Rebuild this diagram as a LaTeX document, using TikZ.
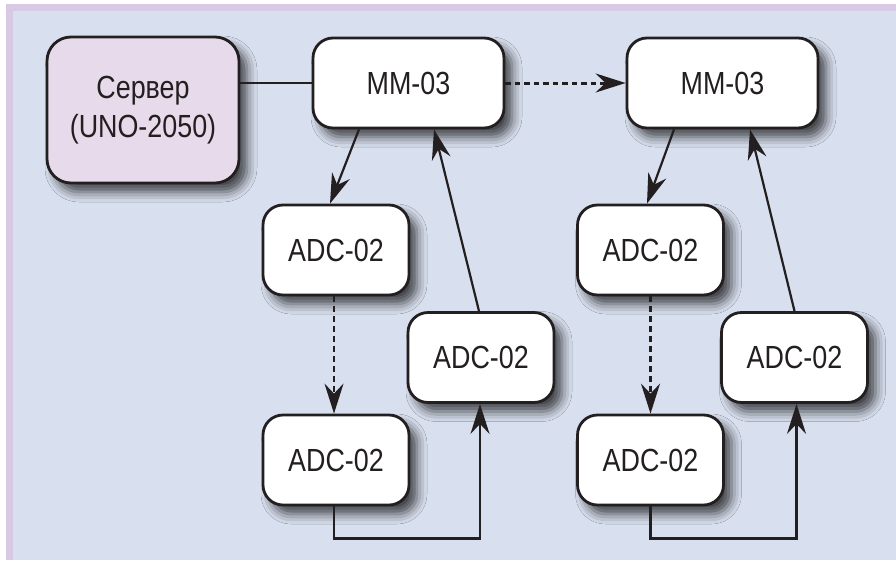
\documentclass[tikz,border=0pt]{standalone}
\usepackage{fontspec}
\setmainfont{Liberation Sans}[FakeStretch=0.84]
\usepackage{tikz}
\usetikzlibrary{arrows.meta,shadows.blur,calc}
\definecolor{framelav}{RGB}{216,202,228}
\definecolor{panelblue}{RGB}{216,223,238}
\definecolor{serverpink}{RGB}{231,218,234}
\definecolor{inkdark}{RGB}{35,31,32}

\begin{document}
\begin{tikzpicture}[
            x=1pt, y=-1pt,
            font=\fontsize{32}{39}\selectfont,
            unit/.style={rectangle, rounded corners=20pt, draw=inkdark, line width=2.8pt,
                        fill=white, text=inkdark, align=center, inner sep=0pt,
                        blur shadow={shadow xshift=8pt, shadow yshift=-9pt,
                                     shadow blur radius=10pt, shadow opacity=70}},
            mm/.style={unit, minimum width=191pt, minimum height=90pt},
            adc/.style={unit, minimum width=146pt, minimum height=90pt},
            server/.style={unit, fill=serverpink, minimum width=192pt, minimum height=146pt,
                        rounded corners=24pt},
            link/.style={inkdark, line width=2.8pt},
            arrow/.style={-{Stealth[length=30pt, width=19pt, inset=10pt]}, inkdark, line width=2.2pt},
            ghost/.style={arrow, dash pattern=on 6pt off 4pt}
        ]
            % panel
            \useasboundingbox (0,0) rectangle (896,560);
            \fill[white] (0,0) rectangle (896,560);
            \fill[framelav] (6,4) rectangle (896,560);
            \fill[panelblue] (13,11) rectangle (896,560);

            \node[server] (server) at (143,110) {Сервер\\(UNO-2050)};
            \node[mm] (mmA) at (408.5,83) {MM-03};
            \node[mm] (mmB) at (722.5,83) {MM-03};

            \node[adc] (adcA1) at (336,250) {ADC-02};
            \node[adc] (adcA2) at (481,357.5) {ADC-02};
            \node[adc] (adcA3) at (336,460) {ADC-02};

            \node[adc] (adcB1) at (650.5,250) {ADC-02};
            \node[adc] (adcB2) at (794.5,357.5) {ADC-02};
            \node[adc] (adcB3) at (650.5,460) {ADC-02};

            \draw[link] (mmA.west) -- (mmA.west -| server.east);
            \draw[ghost, line width=3pt, dash pattern=on 5.5pt off 4pt] (mmA.east) -- (mmB.west);

            % first chain
            \draw[arrow] ([xshift=-49.5pt]mmA.south) -- ([xshift=-6pt]adcA1.north);
            \draw[ghost] ([xshift=-2pt]adcA1.south) -- ([xshift=-2pt]adcA3.north);
            \draw[arrow, line width=2.8pt] ([xshift=-2pt]adcA3.south) -- ++(0,32) -| ([xshift=-1pt]adcA2.south);
            \draw[arrow] ([xshift=-2pt]adcA2.north) -- ([xshift=25.5pt]mmA.south);

            % second chain
            \draw[arrow] ([xshift=-48.5pt]mmB.south) -- ([xshift=-3.5pt]adcB1.north);
            \draw[ghost] (adcB1.south) -- (adcB3.north);
            \draw[arrow, line width=2.8pt] (adcB3.south) -- ++(0,32) -| ([xshift=2pt]adcB2.south);
            \draw[arrow] (adcB2.north) -- ([xshift=27.5pt]mmB.south);
        \end{tikzpicture}
\end{document}
